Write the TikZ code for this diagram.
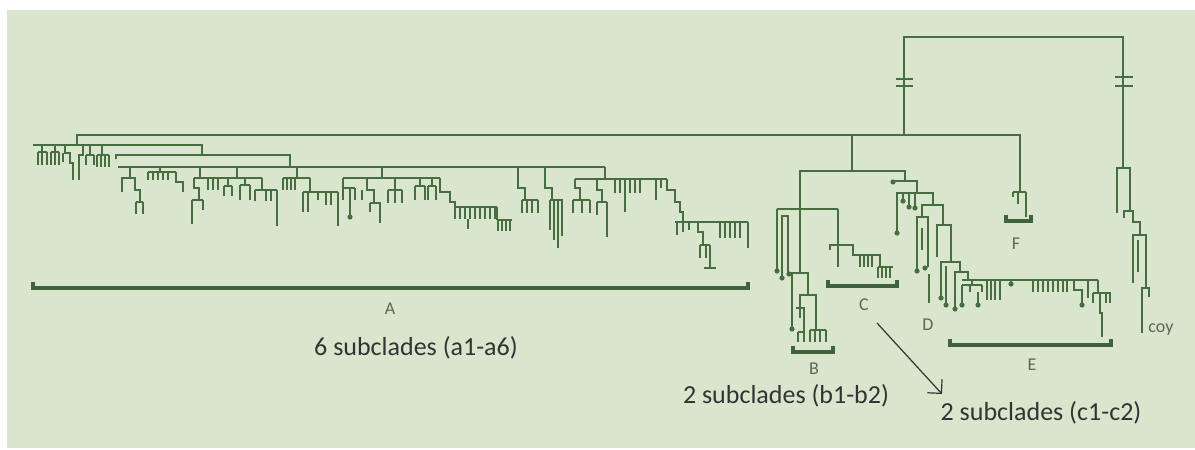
\documentclass[tikz,border=0pt]{standalone}
\usepackage{fontspec}
\setmainfont{Carlito}
\usepackage{tikz}
\usetikzlibrary{arrows.meta}

\definecolor{bggreen}{HTML}{D9E5CC}
\definecolor{treegreen}{HTML}{466E41}
\definecolor{brackgreen}{HTML}{3F613B}
\definecolor{lblgray}{HTML}{5C6858}
\definecolor{txtgray}{HTML}{333333}

\tikzset{
  br/.style={draw=treegreen, line width=0.9pt},
  brace/.style={draw=brackgreen, line width=2pt},
  cladelbl/.style={text=lblgray, font=\fontsize{9}{11}\selectfont, inner sep=0pt},
  sublbl/.style={text=txtgray, font=\fontsize{13}{15}\selectfont, inner sep=0pt},
  arr/.style={draw=txtgray, line width=0.6pt, -{Straight Barb[length=5pt]}}
}

\newcommand{\brstem}[3]{\draw[br] (#1,#2) -- (#1,#3);}
\newcommand{\comb}[5]{\draw[br] (#1,#3) -- (#2,#3);
  \foreach \tx in {#5} \draw[br] (\tx,#3) -- (\tx,#4);}
\newcommand{\leafdot}[2]{\fill[treegreen] (#1,#2) circle[radius=1.3pt];}
\newcommand{\cladebar}[3]{\draw[brace] (#1,#3-6) -- (#1,#3) -- (#2,#3) -- (#2,#3-6);}

\begin{document}
\begin{tikzpicture}[x=0.5pt, y=-0.5pt]
    \useasboundingbox (0,0) rectangle (1195,450);
    \fill[bggreen] (7,10) rectangle (1195,448);

    % Root and broken branches
    \draw[br] (904,135) -- (904,37) -- (1123,37) -- (1123,168);
    \draw[br] (896,79) -- (913,79);
    \draw[br] (896,86) -- (913,86);
    \draw[br] (1115,77) -- (1133,77);
    \draw[br] (1115,86) -- (1133,86);

    % Main spine
    \draw[br] (77,146) -- (77,135) -- (1020,135) -- (1020,192);

    % Clade F
    \comb{1013}{1026}{192}{217}{1026}
    \brstem{1018}{192}{204}
    \brstem{1013}{192}{197}

    % Outgroup coy
    \draw[br] (1117,213) -- (1117,168) -- (1130,168) -- (1130,211);
    \draw[br] (1124,218) -- (1124,211) -- (1133,211) -- (1133,222) -- (1140,222) -- (1140,235);
    \draw[br] (1133,283) -- (1133,235) -- (1146,235) -- (1146,288);
    \brstem{1138}{240}{272}
    \draw[br] (1142,333) -- (1142,288) -- (1149,288) -- (1149,297);

    % Clade A, first group
    \draw[br] (33,145) -- (202,145) -- (202,155);
    \brstem{42}{145}{152} \comb{38}{47}{152}{165}{38,42,47}
    \brstem{55}{145}{152} \comb{51}{59}{152}{165}{51,55,59}
    \draw[br] (65,145) -- (65,153) -- (70,153) -- (70,163) -- (73,163) -- (73,180);
    \brstem{63}{153}{162}
    \draw[br] (83,145) -- (83,155) -- (79,155) -- (79,180);
    \brstem{90}{145}{155} \comb{86}{94}{155}{165}{86,94}
    \brstem{102}{145}{155} \comb{97}{109}{155}{167}{97,101,105,109}

    % Clade A, second group
    \draw[br] (116,159) -- (116,155) -- (290,155) -- (290,167);
    \draw[br] (118,167) -- (605,167);

    \brstem{130}{167}{178}
    \draw[br] (122,192) -- (122,178) -- (135,178) -- (135,190) -- (140,190) -- (140,202);
    \comb{136}{143}{202}{214}{136,143}

    \brstem{160}{167}{172}
    \comb{148}{176}{172}{180}{148,153,158,163,168}
    \draw[br] (176,172) -- (176,182) -- (183,182) -- (183,192);

    \brstem{200}{167}{178} \brstem{237}{167}{178}
    \draw[br] (194,178) -- (262,178);
    \draw[br] (194,178) -- (194,188) -- (199,188) -- (199,200);
    \comb{192}{203}{200}{210}{203} \brstem{192}{200}{224}
    \comb{208}{218}{178}{190}{208,213,218}
    \brstem{228}{178}{186} \comb{224}{232}{186}{196}{224,232}
    \brstem{245}{178}{185} \comb{240}{250}{185}{200}{240,250}
    \draw[br] (262,178) -- (262,190);
    \comb{255}{277}{190}{201}{255,266,271}
    \brstem{277}{190}{226}

    \brstem{297}{167}{178}
    \comb{283}{310}{178}{190}{283,287,291,295}
    \brstem{310}{178}{192}
    \draw[br] (303,192) -- (338,192);
    \foreach \tx/\ty in {303/212, 308/212, 318/200, 326/205, 331/205, 338/226}
        \draw[br] (\tx,192) -- (\tx,\ty);

    \brstem{382}{167}{178}
    \draw[br] (343,178) -- (440,178);
    \brstem{343}{178}{188} \comb{343}{355}{188}{200}{343,355}
    \brstem{350}{188}{215} \leafdot{350}{217}
    \draw[br] (367,178) -- (367,190) -- (374,190) -- (374,203) -- (380,203) -- (380,223);
    \brstem{362}{190}{200} \comb{370}{378}{203}{212}{370}
    \brstem{395}{178}{190} \comb{388}{402}{190}{203}{388,395,402}
    \brstem{420}{178}{186} \comb{415}{425}{186}{200}{415,425}
    \brstem{432}{178}{186} \comb{428}{436}{186}{200}{428,436}
    \draw[br] (440,178) -- (440,192) -- (450,192) -- (450,202) -- (455,202) -- (455,207);
    \comb{455}{497}{207}{219}{455,460,465,470,475,480,485,490,495}
    \brstem{468}{219}{229}
    \draw[br] (497,207) -- (497,220);
    \comb{497}{512}{220}{231}{498,502,506,510}

    \draw[br] (518,167) -- (518,188) -- (525,188) -- (525,200);
    \comb{522}{538}{200}{213}{522,527,532,538}

    \draw[br] (545,167) -- (545,188) -- (552,188) -- (552,200);
    \comb{550}{563}{200}{206}{550}
    \foreach \tx/\ty in {550/230, 554/240, 558/248, 562/236}
        \draw[br] (\tx,200) -- (\tx,\ty);

    \brstem{605}{167}{179}
    \draw[br] (575,179) -- (667,179);
    \draw[br] (575,179) -- (575,188) -- (580,188) -- (580,200);
    \comb{573}{590}{200}{213}{573,582,590}
    \draw[br] (597,179) -- (597,190) -- (602,190) -- (602,202);
    \comb{597}{607}{202}{215}{597}
    \brstem{607}{202}{237}
    \comb{615}{640}{179}{193}{615,620,630,635,640}
    \brstem{625}{179}{212}
    \brstem{656}{179}{200} \brstem{661}{179}{188}
    \draw[br] (667,179) -- (667,190) -- (675,190) -- (675,202) -- (680,202) -- (680,212) -- (683,212) -- (683,222);
    \draw[br] (675,222) -- (748,222);
    \foreach \tx/\ty in {677/235, 683/232, 689/230, 720/238, 725/238, 730/238, 735/238, 740/238, 748/248}
        \draw[br] (\tx,222) -- (\tx,\ty);
    \draw[br] (698,222) -- (698,232) -- (703,232) -- (703,245);
    \comb{700}{710}{245}{258}{700,706}
    \brstem{710}{245}{268}
    \draw[br] (704,268) -- (716,268);

    % Clades B, C, D, E
    \brstem{852}{135}{171}
    \draw[br] (800,273) -- (800,171) -- (905,171) -- (905,181);
    \draw[br] (777,209) -- (838,209);
    \brstem{777}{209}{270} \leafdot{777}{271}
    \draw[br] (782,277) -- (782,216) -- (788,216) -- (788,273);
    \leafdot{782}{278} \leafdot{789}{274}

    % C
    \brstem{838}{209}{267}
    \draw[br] (830,250) -- (830,245) -- (853,245) -- (853,255) -- (880,255) -- (880,267);
    \comb{860}{875}{255}{267}{860,864,868,872}
    \comb{878}{893}{267}{278}{878,882,886,890}

    % B
    \draw[br] (792,328) -- (792,273) -- (808,273) -- (808,295);
    \draw[br] (800,318) -- (800,295) -- (816,295) -- (816,330);
    \draw[br] (796,308) -- (804,308) -- (804,332);
    \comb{798}{804}{332}{342}{798,804}
    \comb{810}{826}{330}{342}{810,815,820,826}
    \leafdot{792}{329}

    % D and E
    \draw[br] (893,181) -- (917,181) -- (917,193);
    \leafdot{893}{182}
    \draw[br] (897,232) -- (897,193) -- (933,193) -- (933,205);
    \leafdot{897}{233}
    \brstem{903}{193}{200} \leafdot{903}{201}
    \brstem{909}{193}{206} \leafdot{909}{207}
    \brstem{915}{193}{207} \leafdot{915}{208}
    \draw[br] (922,217) -- (922,205) -- (943,205) -- (943,225);
    \draw[br] (917,270) -- (917,217) -- (928,217) -- (928,267);
    \leafdot{917}{271} \leafdot{925}{268}
    \brstem{922}{228}{250}
    \brstem{929}{274}{303}
    \draw[br] (937,257) -- (937,225) -- (951,225) -- (951,262);
    \draw[br] (941,297) -- (941,262) -- (960,262) -- (960,272);
    \brstem{946}{266}{304}
    \leafdot{941}{298} \leafdot{946}{305}
    \draw[br] (955,308) -- (955,272) -- (968,272) -- (968,280);
    \leafdot{955}{309}
    \draw[br] (962,280) -- (1098,280);
    \comb{962}{982}{285}{292}{962,970,982}
    \brstem{972}{280}{285}
    \foreach \tx/\ty in {962/304, 978/304}
        \draw[br] (\tx,292) -- (\tx,\ty);
    \leafdot{962}{305} \leafdot{978}{305}
    \comb{987}{1000}{280}{300}{987,991,995,1000}
    \brstem{1011}{280}{283} \leafdot{1011}{284}
    \comb{1033}{1067}{280}{292}{1033,1038,1043,1048,1053,1058,1063,1067}
    \draw[br] (1074,280) -- (1074,290) -- (1082,290) -- (1082,304);
    \brstem{1088}{280}{298}
    \leafdot{1082}{305}
    \draw[br] (1098,280) -- (1098,293) -- (1110,293) -- (1110,303);
    \comb{1093}{1106}{293}{303}{1093,1106}
    \draw[br] (1100,293) -- (1100,313) -- (1102,313) -- (1102,337);

    % Clade brackets
    \cladebar{33}{748}{288}
    \cladebar{793}{833}{352}
    \cladebar{828}{897}{286}
    \cladebar{950}{1111}{345}
    \cladebar{1006}{1031}{221}

    % Define nodes
    \node[cladelbl] (labA) at (390,309) {A};
    \node[cladelbl] (labB) at (814,369) {B};
    \node[cladelbl] (labC) at (864,305) {C};
    \node[cladelbl] (labD) at (928,325) {D};
    \node[cladelbl] (labE) at (1032,365) {E};
    \node[cladelbl] (labF) at (1016,244) {F};
    \node[cladelbl, anchor=west] (coy) at (1148,330) {coy};

    \node[sublbl] (subA) at (416,348) {6 subclades (a1-a6)};
    \node[sublbl] (subB) at (786,396) {2 subclades (b1-b2)};
    \node[sublbl] (subC) at (1041,413) {2 subclades (c1-c2)};

    % Draw arrow
    \coordinate (arrC) at (877,323);
    \coordinate (arrSub) at (942,394);
    \draw[arr] (arrC) -- (arrSub);
\end{tikzpicture}
\end{document}
